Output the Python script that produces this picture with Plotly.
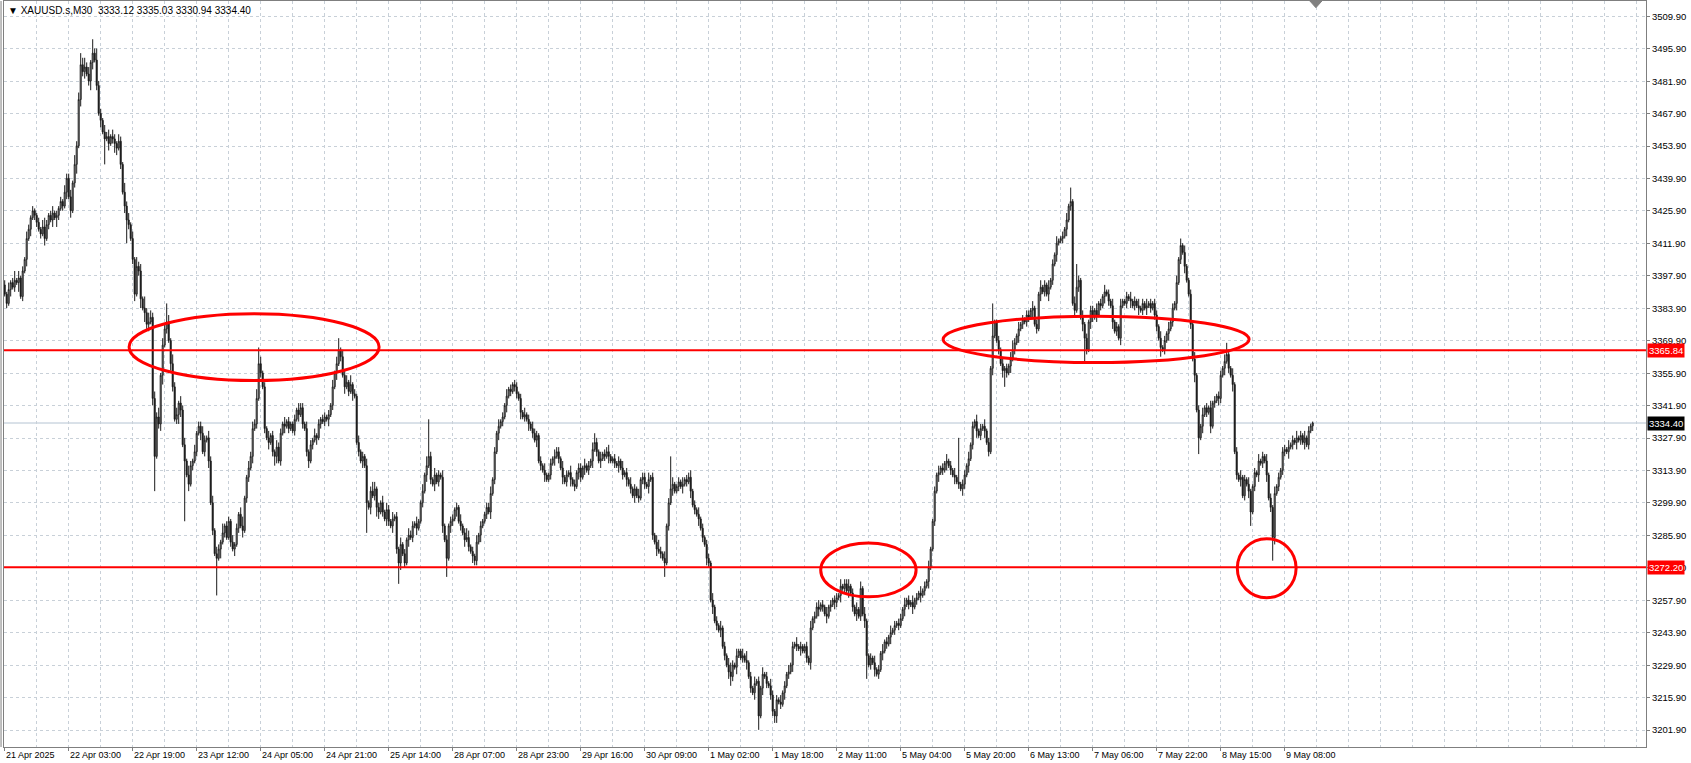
import plotly.graph_objects as go

# ---------------- data ----------------
symbol_title = "\u25BC XAUUSD.s,M30  3333.12 3335.03 3330.94 3334.40"

first_open = 3394.0
closes = [
    3390, 3386, 3392, 3395, 3393, 3396, 3395, 3397, 3389, 3400, 3405, 3414, 3418, 3423, 3426, 3424,
    3421, 3418, 3416, 3419, 3414, 3420, 3424, 3422, 3425, 3423, 3424, 3427, 3430, 3428, 3434, 3440,
    3432, 3426, 3438, 3446, 3454, 3474, 3489, 3486, 3488, 3485, 3482, 3490, 3494, 3491, 3480, 3468,
    3465, 3460, 3457, 3458, 3455, 3458, 3457, 3455, 3453, 3456, 3446, 3434, 3428, 3422, 3420, 3414,
    3405, 3390, 3402, 3400, 3388, 3384, 3382, 3377, 3378, 3380, 3345, 3320, 3337, 3334, 3355, 3368,
    3375, 3378, 3370, 3360, 3350, 3336, 3338, 3343, 3340, 3325, 3318, 3312, 3308, 3316, 3318, 3322,
    3330, 3333, 3330, 3322, 3327, 3328, 3318, 3300, 3288, 3278, 3276, 3280, 3283, 3287, 3290, 3285,
    3292, 3283, 3280, 3282, 3289, 3295, 3290, 3288, 3302, 3311, 3315, 3320, 3332, 3334, 3345, 3360,
    3356, 3350, 3332, 3328, 3326, 3329, 3322, 3320, 3324, 3318, 3330, 3334, 3333, 3335, 3332, 3334,
    3331, 3336, 3340, 3338, 3341, 3334, 3332, 3322, 3318, 3325, 3327, 3329, 3328, 3334, 3336, 3335,
    3337, 3336, 3338, 3342, 3350, 3356, 3360, 3366, 3363, 3355, 3350, 3352, 3348, 3351, 3347, 3346,
    3326, 3322, 3318, 3320, 3316, 3300, 3298, 3305, 3303, 3306, 3298, 3296, 3300, 3296, 3293, 3297,
    3292, 3290, 3293, 3294, 3280, 3274, 3282, 3278, 3274, 3284, 3286, 3285, 3290, 3291, 3289, 3292,
    3300, 3305, 3312, 3316, 3320, 3310, 3308, 3312, 3309, 3312, 3311, 3290, 3284, 3276, 3290, 3292,
    3293, 3297, 3298, 3292, 3290, 3287, 3284, 3285, 3281, 3279, 3277, 3275, 3283, 3286, 3290, 3292,
    3295, 3298, 3296, 3304, 3310, 3322, 3330, 3333, 3335, 3337, 3342, 3346, 3349, 3348, 3351, 3350,
    3347, 3345, 3339, 3337, 3338, 3336, 3334, 3332, 3330, 3327, 3329, 3318, 3316, 3314, 3312, 3310,
    3312, 3317, 3319, 3320, 3322, 3319, 3315, 3311, 3309, 3312, 3313, 3310, 3308, 3307, 3313, 3315,
    3311, 3315, 3316, 3314, 3316, 3318, 3323, 3326, 3322, 3318, 3319, 3321, 3320, 3322, 3320, 3318,
    3319, 3317, 3316, 3318, 3315, 3312, 3313, 3310, 3308, 3306, 3303, 3306, 3303, 3302, 3310, 3311,
    3308, 3307, 3310, 3311, 3286, 3283, 3280, 3279, 3278, 3276, 3274, 3290, 3300, 3306, 3308, 3305,
    3307, 3309, 3307, 3308, 3310, 3309, 3311, 3305, 3299, 3297, 3295, 3293, 3289, 3285, 3282, 3276,
    3274, 3258, 3255, 3249, 3247, 3245, 3246, 3238, 3234, 3230, 3227, 3225, 3230, 3229, 3234, 3236,
    3233, 3234, 3232, 3231, 3225, 3220, 3218, 3222, 3223, 3208, 3220, 3226, 3225, 3222, 3221, 3217,
    3210, 3208, 3215, 3214, 3213, 3218, 3221, 3226, 3227, 3230, 3238, 3239, 3238, 3237, 3238, 3236,
    3238, 3233, 3231, 3246, 3250, 3251, 3255, 3254, 3256, 3255, 3252, 3251, 3255, 3256, 3258, 3257,
    3259, 3260, 3264, 3263, 3265, 3262, 3264, 3261, 3255, 3252, 3254, 3251, 3263, 3252, 3249, 3234,
    3230, 3233, 3231, 3228, 3226, 3228, 3235, 3236, 3240, 3239, 3242, 3244, 3245, 3247, 3248, 3247,
    3250, 3254, 3256, 3258, 3256, 3257, 3255, 3258, 3259, 3261, 3260, 3262, 3264, 3266, 3272, 3280,
    3292, 3305, 3312, 3313, 3315, 3314, 3317, 3318, 3316, 3314, 3312, 3311, 3309, 3308, 3306, 3308,
    3312, 3316, 3319, 3325, 3333, 3335, 3331, 3329, 3332, 3333, 3331, 3326, 3322, 3358, 3372, 3378,
    3370, 3366, 3360, 3357, 3358, 3356, 3359, 3362, 3366, 3369, 3372, 3375, 3377, 3379, 3378, 3381,
    3380, 3383, 3384, 3377, 3375, 3390, 3393, 3391, 3394, 3390, 3393, 3396, 3403, 3407, 3412, 3413,
    3414, 3415, 3418, 3422, 3428, 3430, 3386, 3383, 3393, 3396, 3380, 3377, 3371, 3366, 3378, 3383,
    3380, 3383, 3381, 3386, 3385, 3389, 3391, 3390, 3387, 3385, 3378, 3374, 3376, 3371, 3385, 3387,
    3386, 3389, 3388, 3387, 3385, 3387, 3385, 3384, 3383, 3386, 3384, 3385, 3386, 3384, 3386, 3381,
    3376, 3371, 3367, 3366, 3370, 3373, 3375, 3378, 3384, 3386, 3395, 3405, 3411, 3408, 3402, 3396,
    3390, 3377, 3362, 3355, 3340, 3328, 3333, 3338, 3341, 3339, 3341, 3333, 3343, 3344, 3346, 3345,
    3355, 3358, 3361, 3364, 3358, 3355, 3351, 3322, 3312, 3310, 3311, 3303, 3310, 3308, 3305, 3296,
    3307, 3313, 3312, 3318, 3317, 3320, 3318, 3312, 3302, 3298, 3285, 3304, 3307, 3311, 3314, 3322,
    3323, 3322, 3324, 3325, 3327, 3326, 3328, 3327, 3329, 3326, 3328, 3325, 3331, 3333.12, 3334.40,
]

# estimated wick lengths (whole dollars above the body / below the body), one digit per bar
upper_wick_digits = "".join([
    "2131241312132121", "1213421231212132", "2314235342314252", "2132313213214231",
    "3142315243232413", "2131423132314213", "1223213231321412", "2131213411323241",
    "3121312132213121", "1213221312131212", "2121313213231412", "1312131243121313",
    "2131213121322131", "1314121312131212", "2121312431213121", "1223121312131213",
    "2121312132212131", "1213221312131212", "2131213121312231", "1212131213121312",
    "2131213421312131", "1213122312131212", "2131213121342131", "1314121312131213",
    "2121312131213121", "1213122312131212", "2131213121312131", "1213121312131212",
    "2131213121312131", "1213121312131212", "2131213121312131", "1213121342131212",
    "2131213121312131", "1213121312131212", "2131213121312131", "1213121312131212",
    "2131213121312131", "1213121312131212", "2131213121312131", "1213121312131212",
    "213121312131210",
])
lower_wick_digits = "".join([
    "1213121412131312", "2121312131421213", "1312413231243121", "3121312431213121",
    "2312414231321234", "1213212431213121", "2131213121314121", "1213121312213121",
    "2121312431213121", "1213121231213121", "2131213121312131", "1213121312431213",
    "2131213121312131", "1213121312131213", "2131213121312131", "1213121312131212",
    "2131213121312131", "1213121312131213", "2131213121312131", "1213121312131212",
    "2131213121312131", "1213121312131213", "2131213121312131", "1213121312131212",
    "2131213121312131", "1213121312131213", "2131213121312131", "1213121312131212",
    "2131213121312131", "1213121312131213", "2131213121312131", "1213121312131212",
    "2131213121312131", "1213121312131213", "2131213121312131", "1213121312131212",
    "2131213121312131", "1213121312131213", "2131213121312131", "1213121312131212",
    "213121312131210",
])

# notable wick extremes (bar index -> price)
wick_highs = {44: 3500, 81: 3386, 127: 3367, 167: 3371, 212: 3336, 255: 3353, 295: 3330,
              333: 3320, 421: 3267, 428: 3266, 477: 3328, 494: 3386, 533: 3436, 536: 3403,
              588: 3414, 611: 3369, 654: 3335.03}
wick_lows = {50: 3446, 61: 3412, 75: 3305, 90: 3292, 106: 3260, 181: 3287, 197: 3265,
             221: 3268, 235: 3273, 330: 3268, 363: 3221, 377: 3202, 385: 3205, 431: 3224,
             448: 3246, 500: 3350, 540: 3360, 578: 3363, 597: 3321, 623: 3290, 634: 3275,
             654: 3330.94}

resistance_level = 3365.84
support_level = 3272.20
current_price = 3334.40

price_tick_values = [3201.90, 3215.90, 3229.90, 3243.90, 3257.90, 3271.90, 3285.90, 3299.90,
                     3313.90, 3327.90, 3341.90, 3355.90, 3369.90, 3383.90, 3397.90, 3411.90,
                     3425.90, 3439.90, 3453.90, 3467.90, 3481.90, 3495.90, 3509.90]
price_tick_labels = ["3201.90", "3215.90", "3229.90", "3243.90", "3257.90", "3271.90", "3285.90",
                     "3299.90", "3313.90", "3327.90", "3341.90", "3355.90", "3369.90", "3383.90",
                     "3397.90", "3411.90", "3425.90", "3439.90", "3453.90", "3467.90", "3481.90",
                     "3495.90", "3509.90"]

time_label_bars = [0, 32, 64, 96, 128, 160, 192, 224, 256, 288, 320, 352, 384, 416, 448, 480,
                   512, 544, 576, 608, 640]
time_label_texts = ["21 Apr 2025", "22 Apr 03:00", "22 Apr 19:00", "23 Apr 12:00", "24 Apr 05:00",
                    "24 Apr 21:00", "25 Apr 14:00", "28 Apr 07:00", "28 Apr 23:00", "29 Apr 16:00",
                    "30 Apr 09:00", "1 May 02:00", "1 May 18:00", "2 May 11:00", "5 May 04:00",
                    "5 May 20:00", "6 May 13:00", "7 May 06:00", "7 May 22:00", "8 May 15:00",
                    "9 May 08:00"]

# highlighted zones (bar range, price range)
zone_ellipses = [
    (62.2, 187.2, 3352.7, 3381.6),
    (408.0, 455.7, 3259.4, 3282.6),
    (469.2, 622.2, 3360.5, 3380.5),
    (616.3, 645.7, 3259.0, 3284.5),
]

# ---------------- build OHLC ----------------
n = len(closes)
assert len(upper_wick_digits) == n and len(lower_wick_digits) == n
bars = list(range(n))
opens = [first_open] + closes[:-1]
highs = [wick_highs.get(i, max(opens[i], closes[i]) + int(upper_wick_digits[i])) for i in bars]
lows = [wick_lows.get(i, min(opens[i], closes[i]) - int(lower_wick_digits[i])) for i in bars]

FONT = "Liberation Sans"
GRID = "#C8D0D8"
AXIS = "#7F7F7F"

fig = go.Figure()
fig.add_trace(go.Candlestick(
    x=bars, open=opens, high=highs, low=lows, close=closes,
    increasing=dict(line=dict(color="#1A1A1A", width=1), fillcolor="#FFFFFF"),
    decreasing=dict(line=dict(color="#1A1A1A", width=1), fillcolor="#000000"),
    whiskerwidth=0, hoverinfo="skip", showlegend=False,
))

shapes = []
shapes.append(dict(type="line", xref="paper", x0=0, x1=1, yref="y", y0=current_price,
                   y1=current_price, line=dict(color="#B4C3D2", width=1), layer="below"))
for lvl in (resistance_level, support_level):
    shapes.append(dict(type="line", xref="paper", x0=0, x1=1, yref="y", y0=lvl, y1=lvl,
                       line=dict(color="#FF0000", width=2)))
for x0, x1, y0, y1 in zone_ellipses:
    shapes.append(dict(type="circle", xref="x", yref="y", x0=x0, x1=x1, y0=y0, y1=y1,
                       line=dict(color="#FF0000", width=3), fillcolor="rgba(0,0,0,0)"))
shapes.append(dict(type="line", xref="paper", yref="paper", x0=-0.0018, x1=-0.0018, y0=0, y1=1,
                   line=dict(color=AXIS, width=1)))
shapes.append(dict(type="path", xref="x", yref="paper",
                   path="M 652.6 1 L 658.6 1 L 655.6 0.991 Z",
                   fillcolor="#808080", line=dict(color="#808080", width=1)))

annotations = [dict(xref="paper", yref="paper", x=0, y=1, xanchor="left", yanchor="top",
                    xshift=2, yshift=-2, text=symbol_title, showarrow=False,
                    font=dict(family=FONT, size=10, color="#000000"))]
for b, t in zip(time_label_bars, time_label_texts):
    annotations.append(dict(xref="x", yref="paper", x=b, y=0, xanchor="left", yanchor="top",
                            xshift=-1, yshift=-1, text=t, showarrow=False,
                            font=dict(family=FONT, size=9, color="#000000")))
for lvl, bg in ((resistance_level, "#FF0000"), (support_level, "#FF0000"), (current_price, "#000000")):
    annotations.append(dict(xref="paper", yref="y", x=1, y=lvl, xanchor="left", yanchor="middle",
                            xshift=1, text=f"{lvl:.2f}", showarrow=False, bgcolor=bg, borderpad=1,
                            font=dict(family=FONT, size=9.5, color="#FFFFFF")))

fig.update_layout(
    width=1691, height=763,
    margin=dict(l=4, r=45, t=1, b=16, pad=0),
    paper_bgcolor="#FFFFFF", plot_bgcolor="#FFFFFF",
    shapes=shapes, annotations=annotations,
    xaxis=dict(range=[-0.35, 820.65], rangeslider=dict(visible=False), showticklabels=False,
               tickvals=time_label_bars, ticks="outside", ticklen=3, tickcolor=AXIS,
               showgrid=True, gridcolor=GRID, griddash="dot", gridwidth=1,
               minor=dict(dtick=16, tick0=0, showgrid=True, gridcolor=GRID, griddash="dot"),
               showline=True, linecolor=AXIS, linewidth=1, mirror=True, zeroline=False,
               automargin=False, fixedrange=True),
    yaxis=dict(range=[3194.6, 3516.5], side="right", tickvals=price_tick_values,
               ticktext=price_tick_labels, ticks="outside", ticklen=3, tickcolor=AXIS,
               tickfont=dict(family=FONT, size=9.5, color="#000000"),
               showgrid=True, gridcolor=GRID, griddash="dot", gridwidth=1,
               showline=True, linecolor=AXIS, linewidth=1, mirror=True, zeroline=False,
               automargin=False, fixedrange=True),
    font=dict(family=FONT),
)

fig.write_html(
    "out.html",
    config={"displayModeBar": False},
    post_script="document.body.style.margin='0';document.body.style.padding='0';"
                "document.body.style.overflow='hidden';",
)
